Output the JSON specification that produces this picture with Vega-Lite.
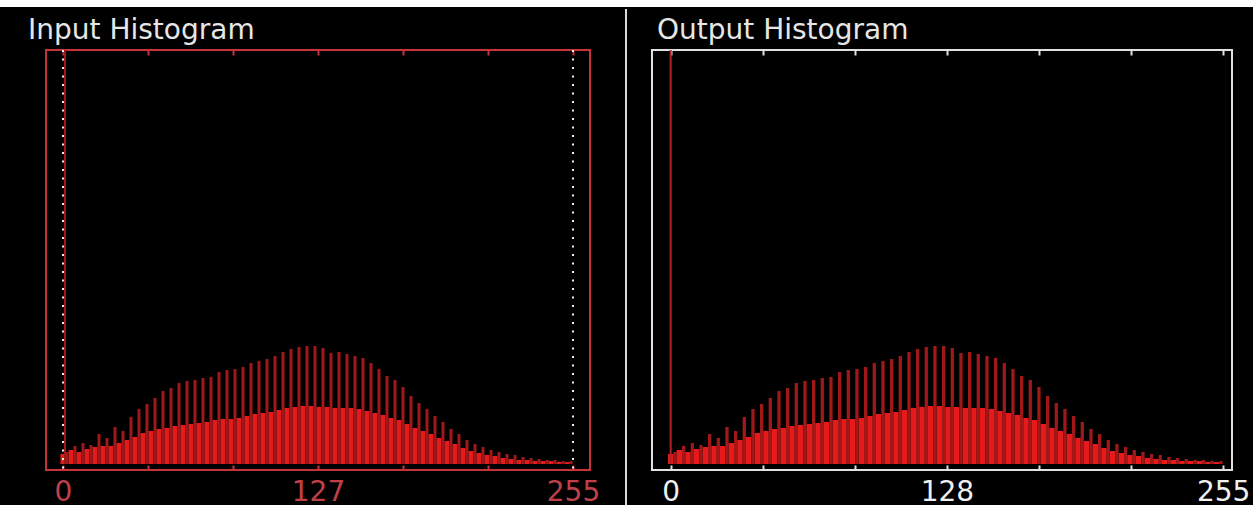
{
  "$schema": "https://vega.github.io/schema/vega-lite/v6.json",
  "background": "black",
  "padding": 0,
  "config": {"view": {"stroke": null}, "font": "DejaVu Sans"},
  "datasets": {
    "peaks": [
      {"v":2,"n":12},{"v":6,"n":18},{"v":10,"n":21},{"v":14,"n":19},{"v":18,"n":30},{"v":22,"n":26},{"v":26,"n":37},{"v":30,"n":33},
      {"v":34,"n":47},{"v":38,"n":55},{"v":42,"n":60},{"v":46,"n":66},{"v":50,"n":73},{"v":54,"n":76},{"v":58,"n":81},{"v":62,"n":83},
      {"v":66,"n":84},{"v":70,"n":86},{"v":74,"n":87},{"v":78,"n":92},{"v":82,"n":94},{"v":86,"n":95},{"v":90,"n":97},{"v":94,"n":101},
      {"v":98,"n":103},{"v":102,"n":105},{"v":106,"n":108},{"v":110,"n":112},{"v":114,"n":115},{"v":118,"n":117},{"v":122,"n":118},{"v":126,"n":118},
      {"v":130,"n":116},{"v":134,"n":111},{"v":138,"n":112},{"v":142,"n":110},{"v":146,"n":108},{"v":150,"n":106},{"v":154,"n":101},{"v":158,"n":95},
      {"v":162,"n":88},{"v":166,"n":84},{"v":170,"n":77},{"v":174,"n":68},{"v":178,"n":61},{"v":182,"n":55},{"v":186,"n":48},{"v":190,"n":42},
      {"v":194,"n":35},{"v":198,"n":30},{"v":202,"n":24},{"v":206,"n":20},{"v":210,"n":17},{"v":214,"n":14},{"v":218,"n":12},{"v":222,"n":10},
      {"v":226,"n":9},{"v":230,"n":7},{"v":234,"n":6},{"v":238,"n":5},{"v":242,"n":4},{"v":246,"n":4},{"v":250,"n":3},{"v":254,"n":3}
    ],
    "base": [
      {"v":0,"n":10},{"v":4,"n":14},{"v":8,"n":12},{"v":12,"n":15},{"v":16,"n":17},{"v":20,"n":18},{"v":24,"n":18},{"v":28,"n":21},
      {"v":32,"n":24},{"v":36,"n":27},{"v":40,"n":31},{"v":44,"n":33},{"v":48,"n":35},{"v":52,"n":36},{"v":56,"n":38},{"v":60,"n":39},
      {"v":64,"n":40},{"v":68,"n":41},{"v":72,"n":42},{"v":76,"n":44},{"v":80,"n":45},{"v":84,"n":45},{"v":88,"n":46},{"v":92,"n":48},
      {"v":96,"n":50},{"v":100,"n":51},{"v":104,"n":52},{"v":108,"n":54},{"v":112,"n":56},{"v":116,"n":57},{"v":120,"n":58},{"v":124,"n":58},
      {"v":128,"n":57},{"v":132,"n":57},{"v":136,"n":56},{"v":140,"n":56},{"v":144,"n":56},{"v":148,"n":55},{"v":152,"n":53},{"v":156,"n":51},
      {"v":160,"n":49},{"v":164,"n":46},{"v":168,"n":44},{"v":172,"n":40},{"v":176,"n":36},{"v":180,"n":33},{"v":184,"n":30},{"v":188,"n":26},
      {"v":192,"n":23},{"v":196,"n":20},{"v":200,"n":16},{"v":204,"n":13},{"v":208,"n":11},{"v":212,"n":9},{"v":216,"n":8},{"v":220,"n":6},
      {"v":224,"n":5},{"v":228,"n":4},{"v":232,"n":4},{"v":236,"n":3},{"v":240,"n":3},{"v":244,"n":3},{"v":248,"n":2},{"v":252,"n":2}
    ],
    "spikeIn": [{"v":1,"n":414}],
    "spikeOut": [{"v":0,"n":414}],
    "limits": [{"v":0},{"v":255}]
  },
  "spacing": 1,
  "vconcat": [
    {
      "width": 1253, "height": 7,
      "view": {"fill": "white", "stroke": null},
      "data": {"values": [{}]},
      "mark": {"type": "point", "opacity": 0, "size": 0},
      "encoding": {}
    },
    {
      "spacing": 21,
      "hconcat": [
        {
          "width": 6, "height": 420,
          "view": {"stroke": null},
          "data": {"values": [{}]},
          "mark": {"type": "point", "opacity": 0, "size": 0},
          "encoding": {}
        },
        {
          "width": 544, "height": 420,
          "view": {"stroke": "#c8323c", "strokeWidth": 2},
          "title": {"text": "Input Histogram", "anchor": "start", "frame": "group", "dx": -18, "offset": -18, "baseline": "alphabetic", "font": "DejaVu Sans", "fontSize": 28, "fontWeight": "normal", "color": "#e6e6e6"},
          "resolve": {"axis": {"x": "independent"}},
          "layer": [
            {
              "data": {"name": "base"},
              "mark": {"type": "bar", "width": 5, "color": "#e61a1a"},
              "encoding": {
                "x": {"field": "v", "type": "quantitative", "scale": {"domain": [-6, 261], "nice": false, "zero": false},
                  "axis": {"orient": "bottom", "values": [0, 42.5, 85, 127.5, 170, 212.5, 255], "labelExpr": "datum.value == 0 ? '0' : datum.value == 255 ? '255' : datum.value == 127.5 ? '127' : ''", "domain": false, "grid": false, "tickSize": -5, "tickWidth": 2, "tickColor": "#c8323c", "labelColor": "#c0404a", "labelFont": "DejaVu Sans", "labelFontSize": 28, "labelPadding": 13, "labelOverlap": false, "labelFlush": false, "labelBound": false, "title": null}},
                "y": {"field": "n", "type": "quantitative", "scale": {"domain": [-6, 414], "nice": false, "zero": false}, "axis": null}
              }
            },
            {
              "data": {"name": "peaks"},
              "mark": {"type": "bar", "width": 3, "color": "#a01818"},
              "encoding": {
                "x": {"field": "v", "type": "quantitative",
                  "axis": {"orient": "top", "values": [0, 42.5, 85, 127.5, 170, 212.5, 255], "labels": false, "domain": false, "grid": false, "tickSize": -5, "tickWidth": 2, "tickColor": "#c8323c", "title": null}},
                "y": {"field": "n", "type": "quantitative", "axis": null}
              }
            },
            {
              "data": {"name": "spikeIn"},
              "mark": {"type": "bar", "width": 2, "color": "#a01818"},
              "encoding": {
                "x": {"field": "v", "type": "quantitative", "axis": null},
                "y": {"field": "n", "type": "quantitative", "axis": null}
              }
            },
            {
              "data": {"name": "limits"},
              "mark": {"type": "rule", "color": "#f0f0f0", "strokeWidth": 2, "strokeDash": [2, 6.5]},
              "encoding": {
                "x": {"field": "v", "type": "quantitative", "axis": null}
              }
            }
          ]
        },
        {
          "width": 8, "height": 420,
          "view": {"stroke": null},
          "data": {"values": [{"lo": 0, "hi": 1}]},
          "mark": {"type": "rule", "color": "#d8d8d8", "strokeWidth": 2},
          "encoding": {
            "y": {"field": "lo", "type": "quantitative", "scale": {"domain": [0, 1], "nice": false, "range": [456, -41]}, "axis": null},
            "y2": {"field": "hi"}
          }
        },
        {
          "width": 580, "height": 420,
          "view": {"stroke": "#e0e0e0", "strokeWidth": 2},
          "title": {"text": "Output Histogram", "anchor": "start", "frame": "group", "dx": 5, "offset": -18, "baseline": "alphabetic", "font": "DejaVu Sans", "fontSize": 28, "fontWeight": "normal", "color": "#e6e6e6"},
          "resolve": {"axis": {"x": "independent"}},
          "layer": [
            {
              "data": {"name": "base"},
              "mark": {"type": "bar", "width": 5.5, "color": "#e61a1a"},
              "encoding": {
                "x": {"field": "v", "type": "quantitative", "scale": {"domain": [-6.3, 256.8], "nice": false, "zero": false},
                  "axis": {"orient": "bottom", "values": [0, 42.5, 85, 127.5, 170, 212.5, 255], "labelExpr": "datum.value == 0 ? '0' : datum.value == 255 ? '255' : datum.value == 127.5 ? '128' : ''", "domain": false, "grid": false, "tickSize": -5, "tickWidth": 2, "tickColor": "#e0e0e0", "labelColor": "#f0f0f0", "labelFont": "DejaVu Sans", "labelFontSize": 28, "labelPadding": 13, "labelOverlap": false, "labelFlush": false, "labelBound": false, "title": null}},
                "y": {"field": "n", "type": "quantitative", "scale": {"domain": [-6, 414], "nice": false, "zero": false}, "axis": null}
              }
            },
            {
              "data": {"name": "peaks"},
              "mark": {"type": "bar", "width": 3.3, "color": "#a01818"},
              "encoding": {
                "x": {"field": "v", "type": "quantitative",
                  "axis": {"orient": "top", "values": [0, 42.5, 85, 127.5, 170, 212.5, 255], "labels": false, "domain": false, "grid": false, "tickSize": -5, "tickWidth": 2, "tickColor": "#e0e0e0", "title": null}},
                "y": {"field": "n", "type": "quantitative", "axis": null}
              }
            },
            {
              "data": {"name": "spikeOut"},
              "mark": {"type": "bar", "width": 2, "color": "#b0202a"},
              "encoding": {
                "x": {"field": "v", "type": "quantitative", "axis": null},
                "y": {"field": "n", "type": "quantitative", "axis": null}
              }
            }
          ]
        }
      ]
    }
  ]
}
